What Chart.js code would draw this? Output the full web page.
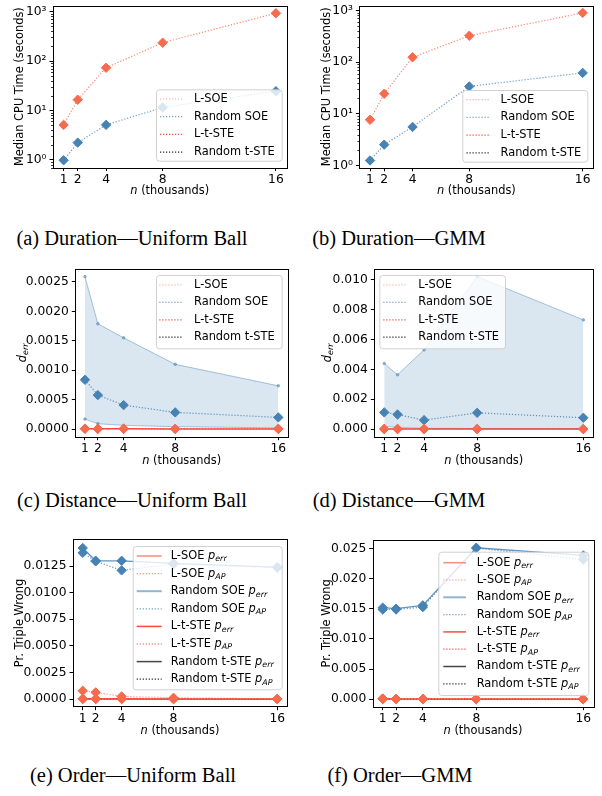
<!DOCTYPE html>
<html><head><meta charset="utf-8">
<script src="https://cdn.jsdelivr.net/npm/chart.js@4.4.0/dist/chart.umd.min.js"></script>
<style>
html,body{margin:0;padding:0;background:#fff;width:602px;height:796px;overflow:hidden;position:relative}
canvas{position:absolute}
.cap{position:absolute;font-family:"Liberation Serif","Times New Roman",serif;font-size:20.5px;color:#000;white-space:nowrap;transform:translate(-50%,-50%)}
</style></head><body>
<div class="cap" style="left:132px;top:238px">(a) Duration—Uniform Ball</div>
<div class="cap" style="left:399px;top:238px">(b) Duration—GMM</div>
<div class="cap" style="left:132px;top:500px">(c) Distance—Uniform Ball</div>
<div class="cap" style="left:399px;top:500px">(d) Distance—GMM</div>
<div class="cap" style="left:133px;top:775px">(e) Order—Uniform Ball</div>
<div class="cap" style="left:400px;top:775px">(f) Order—GMM</div>
<canvas id="ca"></canvas><canvas id="cb"></canvas>
<canvas id="cc"></canvas><canvas id="cd"></canvas>
<canvas id="ce"></canvas><canvas id="cf"></canvas>
<script>
// ---------- data ----------
const nValues = [1, 2, 4, 8, 16];
const xTicks = [1, 2, 4, 8, 16];
const logTicks = [1, 10, 100, 1000];
const seriesLabels = ['L-SOE', 'Random SOE', 'L-t-STE', 'Random t-STE'];
const orderLabels = ['L-SOE p_err', 'L-SOE p_AP', 'Random SOE p_err', 'Random SOE p_AP',
                     'L-t-STE p_err', 'L-t-STE p_AP', 'Random t-STE p_err', 'Random t-STE p_AP'];

// (a) Duration — Uniform Ball (seconds)
const uniTimeLSOE = [5.1, 16.5, 73, 235, 930];
const uniTimeRandSOE = [0.98, 2.23, 5.1, 11.5, 24.5];
// (b) Duration — GMM
const gmmTimeLSOE = [7.7, 24.5, 124, 323, 895];
const gmmTimeRandSOE = [1.26, 2.55, 5.6, 34, 62];

// (c) Distance — Uniform Ball
const uniDistRandSOE = [0.000837, 0.000577, 0.000407, 0.000283, 0.000198];
const uniDistRandSOEHi = [0.00259, 0.00179, 0.00155, 0.00110, 0.000735];
const uniDistRandSOELo = [0.00017, 0.00009, 0.000063, 0.00004, 0.00002];
const uniDistLSOE = [0.000008, 0.000006, 0.000005, 0.000004, 0.000003];
const uniDistLtSTE = [0.000004, 0.000003, 0.000003, 0.000002, 0.000002];
const uniDistTicks = [0, 0.0005, 0.001, 0.0015, 0.002, 0.0025];
// (d) Distance — GMM
const gmmDistRandSOE = [0.00112, 0.00098, 0.00060, 0.00109, 0.00076];
const gmmDistRandSOEHi = [0.0044, 0.00364, 0.00531, 0.01022, 0.00732];
const gmmDistRandSOELo = [0.00018, 0.00012, 0.00005, 0.00004, 0.00003];
const gmmDistLSOE = [0.00001, 0.000008, 0.000006, 0.000005, 0.000004];
const gmmDistLtSTE = [0.000005, 0.000004, 0.000003, 0.000003, 0.000002];
const gmmDistTicks = [0, 0.002, 0.004, 0.006, 0.008, 0.010];

// (e) Order — Uniform Ball
const uniOrdRandSOEErr = [0.0142, 0.0130, 0.0130, 0.01275, 0.0124];
const uniOrdRandSOEAP = [0.01375, 0.01295, 0.0121, 0.0127, 0.01235];
const uniOrdLSOEErr = [0.00003, 0.00002, 0.00002, 0.00001, 0.00001];
const uniOrdLSOEAP = [0.00078, 0.00063, 0.00025, 0.00012, 0.00002];
const uniOrdLtSTEErr = [0.00001, 0.00001, 0.00001, 0.000005, 0.000005];
const uniOrdLtSTEAP = [0.00002, 0.00002, 0.00001, 0.00001, 0.000005];
const uniOrdTicks = [0, 0.0025, 0.005, 0.0075, 0.01, 0.0125];
// (f) Order — GMM
const gmmOrdRandSOEErr = [0.01521, 0.01504, 0.01559, 0.02517, 0.02389];
const gmmOrdRandSOEAP = [0.0149, 0.0149, 0.0153, 0.0251, 0.02322];
const gmmOrdLSOEErr = [0.0001, 0.00005, 0.00003, 0.00002, 0.00001];
const gmmOrdLSOEAP = [0.00008, 0.00005, 0.00003, 0.00002, 0.00001];
const gmmOrdLtSTEErr = [0.00002, 0.00001, 0.00001, 0.00001, 0.000005];
const gmmOrdLtSTEAP = [0.00002, 0.00001, 0.00001, 0.00001, 0.000005];
const gmmOrdTicks = [0, 0.005, 0.01, 0.015, 0.02, 0.025];

// ---------- styling helpers ----------
const FONT = '"DejaVu Sans", sans-serif';
const TFS = 12.3;   // tick font size
const LFS = 11.4;   // legend / label font size
const DOT = [1.2, 1.8];
const C = {
  lsoe: 'rgba(250,128,114,0.75)', lsoeM: '#f66a4e',
  rsoe: 'rgba(70,130,180,0.75)', rsoeM: '#4682b4',
  ltste: 'rgba(250,40,30,0.85)', rtste: '#222'
};
function pts(arr) { return nValues.map((n, i) => ({ x: n, y: arr[i] })); }

function parseRich(label) {
  if (label.startsWith('n (')) return [{ t: 'n', it: true }, { t: label.slice(1) }];
  const m = label.match(/^(.*?)([A-Za-z])_(\w+)$/);
  if (!m) return [{ t: label }];
  const out = [];
  if (m[1]) out.push({ t: m[1] });
  out.push({ t: m[2], it: true });
  out.push({ t: m[3], it: true, sub: true });
  return out;
}
function fontOf(p, size) { return (p.it ? 'italic ' : '') + (p.sub ? size * 0.7 : size) + 'px ' + FONT; }
function drawRich(ctx, label, x, y, size, align) {
  const parts = parseRich(label);
  let w = 0;
  parts.forEach(p => { ctx.font = fontOf(p, size); p.w = ctx.measureText(p.t).width; w += p.w; });
  let cx = align === 'center' ? x - w / 2 : x;
  ctx.textBaseline = 'middle';
  ctx.textAlign = 'left';
  ctx.fillStyle = '#000';
  parts.forEach(p => {
    ctx.font = fontOf(p, size);
    ctx.fillText(p.t, cx, y + (p.sub ? size * 0.3 : 0));
    cx += p.w;
  });
}

function dsLine(label, arr, color, mcolor, opt) {
  return Object.assign({
    label: label, data: pts(arr), borderColor: color, backgroundColor: mcolor,
    pointBackgroundColor: mcolor, pointBorderColor: mcolor, borderWidth: 1.2,
    borderDash: DOT, pointStyle: 'rectRot', pointRadius: 4.7, pointBorderWidth: 1,
    fill: false, tension: 0
  }, opt || {});
}

function panel(id, box, area, datasets, yopt, texts, legend) {
  const cv = document.getElementById(id);
  cv.width = box.w; cv.height = box.h;
  cv.style.left = box.x + 'px'; cv.style.top = box.y + 'px';
  cv.style.width = box.w + 'px'; cv.style.height = box.h + 'px';
  const ox = box.x, oy = box.y;
  const plug = {
    id: 'deco',
    afterDraw(chart) {
      const ctx = chart.ctx, ca = chart.chartArea;
      ctx.save();
      // minor ticks for log axis
      if (yopt.type === 'logarithmic') {
        const ys = chart.scales.y;
        ctx.strokeStyle = '#000'; ctx.lineWidth = 0.8;
        for (let d = 0; d < 4; d++) {
          for (let k = 2; k <= 9; k++) {
            const v = k * Math.pow(10, d - 1);
            if (v < ys.min || v > ys.max) continue;
            const py = Math.round(ys.getPixelForValue(v)) + 0.5;
            ctx.beginPath(); ctx.moveTo(ca.left, py); ctx.lineTo(ca.left - 2, py); ctx.stroke();
          }
        }
      }
      // frame
      ctx.strokeStyle = '#000'; ctx.lineWidth = 1;
      ctx.strokeRect(Math.round(ca.left) + 0.5, Math.round(ca.top) + 0.5,
                     Math.round(ca.right - ca.left), Math.round(ca.bottom - ca.top));
      // axis titles
      drawRich(ctx, texts.x, (ca.left + ca.right) / 2, texts.xy - oy, LFS, 'center');
      ctx.save();
      ctx.translate(texts.yx - ox, (ca.top + ca.bottom) / 2);
      ctx.rotate(-Math.PI / 2);
      drawRich(ctx, texts.y, 0, 0, LFS, 'center');
      ctx.restore();
      // legend
      const L = legend;
      ctx.beginPath();
      ctx.roundRect(L.x0 - ox + 0.5, L.y0 - oy + 0.5, L.x1 - L.x0, L.y1 - L.y0, 3);
      ctx.fillStyle = 'rgba(255,255,255,0.8)'; ctx.fill();
      ctx.strokeStyle = 'rgba(204,204,204,0.9)'; ctx.lineWidth = 1; ctx.stroke();
      L.items.forEach((it, i) => {
        const y = L.ry0 + i * L.dy - oy;
        ctx.beginPath();
        ctx.setLineDash(it.dash || []);
        ctx.strokeStyle = it.color; ctx.lineWidth = it.width || 1.2;
        ctx.moveTo(L.hx0 - ox, y); ctx.lineTo(L.hx1 - ox, y); ctx.stroke();
        ctx.setLineDash([]);
        drawRich(ctx, it.label, L.tx - ox, y, LFS, 'left');
      });
      ctx.restore();
    }
  };
  const yScale = Object.assign({
    position: 'left',
    border: { display: false },
    grid: { display: true, drawOnChartArea: false, drawTicks: true, tickLength: 3.5, color: '#000', tickWidth: 1 },
    ticks: { font: { family: FONT, size: TFS }, color: '#000', padding: 3, autoSkip: false },
    afterFit(s) { s.width = area.L - box.x; s.paddingTop = 0; s.paddingBottom = 0; }
  }, yopt);
  const yTickVals = yopt.tickVals;
  yScale.afterBuildTicks = (ax) => { ax.ticks = yTickVals.map(v => ({ value: v, major: false })); };
  delete yScale.tickVals;
  if (yopt.fmt) { const f = yopt.fmt; yScale.ticks.callback = f; delete yScale.fmt; }
  new Chart(cv, {
    type: 'line',
    data: { datasets: datasets },
    options: {
      responsive: false, animation: false, devicePixelRatio: 1,
      layout: { padding: { top: area.T - box.y, right: box.x + box.w - area.R, left: 0, bottom: 0 } },
      plugins: { legend: { display: false }, tooltip: { enabled: false } },
      scales: {
        x: {
          type: 'linear', min: 0.25, max: 16.75,
          border: { display: false },
          grid: { display: true, drawOnChartArea: false, drawTicks: true, tickLength: 3.5, color: '#000', tickWidth: 1 },
          ticks: { font: { family: FONT, size: TFS }, color: '#000', padding: 1.5, autoSkip: false, maxRotation: 0,
                   callback: v => String(v) },
          afterBuildTicks(ax) { ax.ticks = xTicks.map(v => ({ value: v })); },
          afterFit(s) { s.height = box.y + box.h - area.B; s.paddingLeft = 0; s.paddingRight = 0; }
        },
        y: yScale
      }
    },
    plugins: [plug]
  });
}

const supers = { 0: '⁰', 1: '¹', 2: '²', 3: '³' };
const logFmt = v => '10' + supers[Math.round(Math.log10(v))];
const fix = d => (v => Number(v).toFixed(d));

function timeDatasets(lsoe, rsoe) {
  return [
    dsLine(seriesLabels[0], lsoe, 'rgba(246,105,80,0.8)', C.lsoeM),
    dsLine(seriesLabels[1], rsoe, 'rgba(70,130,180,0.8)', C.rsoeM),
    dsLine(seriesLabels[2], [], C.ltste, C.ltste),
    dsLine(seriesLabels[3], [], C.rtste, C.rtste)
  ];
}
function legend4(x0, x1, y0, y1, ry0, dy, hx0, hx1, tx) {
  return { x0, x1, y0, y1, ry0, dy, hx0, hx1, tx, items: [
    { label: seriesLabels[0], color: 'rgba(250,128,114,0.7)', dash: DOT },
    { label: seriesLabels[1], color: 'rgba(70,130,180,0.75)', dash: DOT },
    { label: seriesLabels[2], color: 'rgba(250,40,30,0.85)', dash: DOT },
    { label: seriesLabels[3], color: '#222', dash: DOT }
  ] };
}
function distDatasets(lsoe, ltste, mean, hi, lo) {
  return [
    dsLine(seriesLabels[2], ltste, 'rgba(250,40,30,0.85)', C.lsoeM, { borderDash: [], borderWidth: 1.5 }),
    dsLine(seriesLabels[0], lsoe, 'rgba(250,128,114,0.8)', C.lsoeM),
    dsLine(seriesLabels[1], mean, 'rgba(70,130,180,0.85)', C.rsoeM),
    dsLine('Random SOE upper', hi, 'rgba(70,130,180,0.45)', 'rgba(70,130,180,0.5)',
           { borderDash: [], borderWidth: 1, pointRadius: 1.3, pointStyle: 'circle', fill: '+1',
             backgroundColor: 'rgba(70,130,180,0.2)' }),
    dsLine('Random SOE lower', lo, 'rgba(70,130,180,0.45)', 'rgba(70,130,180,0.5)',
           { borderDash: [], borderWidth: 1, pointRadius: 1.3, pointStyle: 'circle' })
  ];
}
function orderDatasets(lte, lta, le, la, re, ra) {
  return [
    dsLine(orderLabels[4], lte, 'rgba(250,40,30,0.85)', C.lsoeM, { borderDash: [], borderWidth: 1.3 }),
    dsLine(orderLabels[5], lta, 'rgba(250,40,30,0.85)', C.lsoeM),
    dsLine(orderLabels[0], le, 'rgba(250,128,114,0.9)', C.lsoeM, { borderDash: [], borderWidth: 1.3 }),
    dsLine(orderLabels[1], la, 'rgba(250,128,114,0.9)', C.lsoeM),
    dsLine(orderLabels[2], re, 'rgba(70,130,180,0.85)', C.rsoeM, { borderDash: [], borderWidth: 1.3 }),
    dsLine(orderLabels[3], ra, 'rgba(70,130,180,0.85)', C.rsoeM)
  ];
}
function legend8(x0, x1, y0, y1, ry0, dy, hx0, hx1, tx) {
  return { x0, x1, y0, y1, ry0, dy, hx0, hx1, tx, items: [
    { label: orderLabels[0], color: 'rgba(250,128,114,0.9)', width: 1.5 },
    { label: orderLabels[1], color: 'rgba(250,128,114,0.9)', dash: DOT },
    { label: orderLabels[2], color: 'rgba(70,130,180,0.6)', width: 2 },
    { label: orderLabels[3], color: 'rgba(70,130,180,0.8)', dash: DOT },
    { label: orderLabels[4], color: 'rgba(250,40,30,0.85)', width: 1.5 },
    { label: orderLabels[5], color: 'rgba(250,40,30,0.85)', dash: DOT },
    { label: orderLabels[6], color: 'rgba(40,40,40,0.85)', width: 1.5 },
    { label: orderLabels[7], color: '#222', dash: DOT }
  ] };
}

// (a)
panel('ca', { x: 0, y: 0, w: 300, h: 200 }, { L: 53, T: 1, R: 286.5, B: 167.5 },
  timeDatasets(uniTimeLSOE, uniTimeRandSOE),
  { type: 'logarithmic', min: 0.71, max: 1318, tickVals: logTicks, fmt: logFmt },
  { x: 'n (thousands)', xy: 191, y: 'Median CPU Time (seconds)', yx: 20 },
  legend4(156, 281.7, 89.3, 160.7, 99, 17.7, 160, 183, 194));
// (b)
panel('cb', { x: 301, y: 0, w: 301, h: 200 }, { L: 359.4, T: 1, R: 593.3, B: 167.8 },
  timeDatasets(gmmTimeLSOE, gmmTimeRandSOE),
  { type: 'logarithmic', min: 0.91, max: 1230, tickVals: logTicks, fmt: logFmt },
  { x: 'n (thousands)', xy: 191, y: 'Median CPU Time (seconds)', yx: 327 },
  legend4(462.3, 587.3, 90, 161.7, 99.7, 17.7, 466.5, 489.5, 500.5));
// (c)
panel('cc', { x: 0, y: 255, w: 300, h: 220 }, { L: 75.3, T: 269, R: 288, B: 436.7 },
  distDatasets(uniDistLSOE, uniDistLtSTE, uniDistRandSOE, uniDistRandSOEHi, uniDistRandSOELo),
  { type: 'linear', min: -0.00013, max: 0.00272, tickVals: uniDistTicks, fmt: fix(4) },
  { x: 'n (thousands)', xy: 461, y: 'd_err', yx: 23 },
  legend4(156, 281.7, 275, 348.3, 285, 17.4, 159.3, 182.7, 194));
// (d)
panel('cd', { x: 301, y: 255, w: 301, h: 220 }, { L: 374.3, T: 269, R: 593.3, B: 436.7 },
  distDatasets(gmmDistLSOE, gmmDistLtSTE, gmmDistRandSOE, gmmDistRandSOEHi, gmmDistRandSOELo),
  { type: 'linear', min: -0.00051, max: 0.01073, tickVals: gmmDistTicks, fmt: fix(3) },
  { x: 'n (thousands)', xy: 461, y: 'd_err', yx: 328 },
  legend4(379.3, 505, 275, 348.3, 285, 17.4, 383.3, 407.3, 418.3));
// (e)
panel('ce', { x: 0, y: 525, w: 300, h: 225 }, { L: 73, T: 539.3, R: 287, B: 706.7 },
  orderDatasets(uniOrdLtSTEErr, uniOrdLtSTEAP, uniOrdLSOEErr, uniOrdLSOEAP, uniOrdRandSOEErr, uniOrdRandSOEAP),
  { type: 'linear', min: -0.000715, max: 0.01502, tickVals: uniOrdTicks, fmt: fix(4) },
  { x: 'n (thousands)', xy: 731, y: 'Pr. Triple Wrong', yx: 20 },
  legend8(132.7, 281.7, 546, 689.3, 556, 17.6, 136.7, 161.7, 170.7));
// (f)
panel('cf', { x: 301, y: 525, w: 301, h: 225 }, { L: 372.7, T: 540, R: 593.3, B: 706.7 },
  orderDatasets(gmmOrdLtSTEErr, gmmOrdLtSTEAP, gmmOrdLSOEErr, gmmOrdLSOEAP, gmmOrdRandSOEErr, gmmOrdRandSOEAP),
  { type: 'linear', min: -0.00126, max: 0.02646, tickVals: gmmOrdTicks, fmt: fix(3) },
  { x: 'n (thousands)', xy: 731, y: 'Pr. Triple Wrong', yx: 327 },
  legend8(438.3, 588.3, 551.7, 695, 562.7, 17.3, 443.3, 466, 476.7));
</script>
</body></html>
